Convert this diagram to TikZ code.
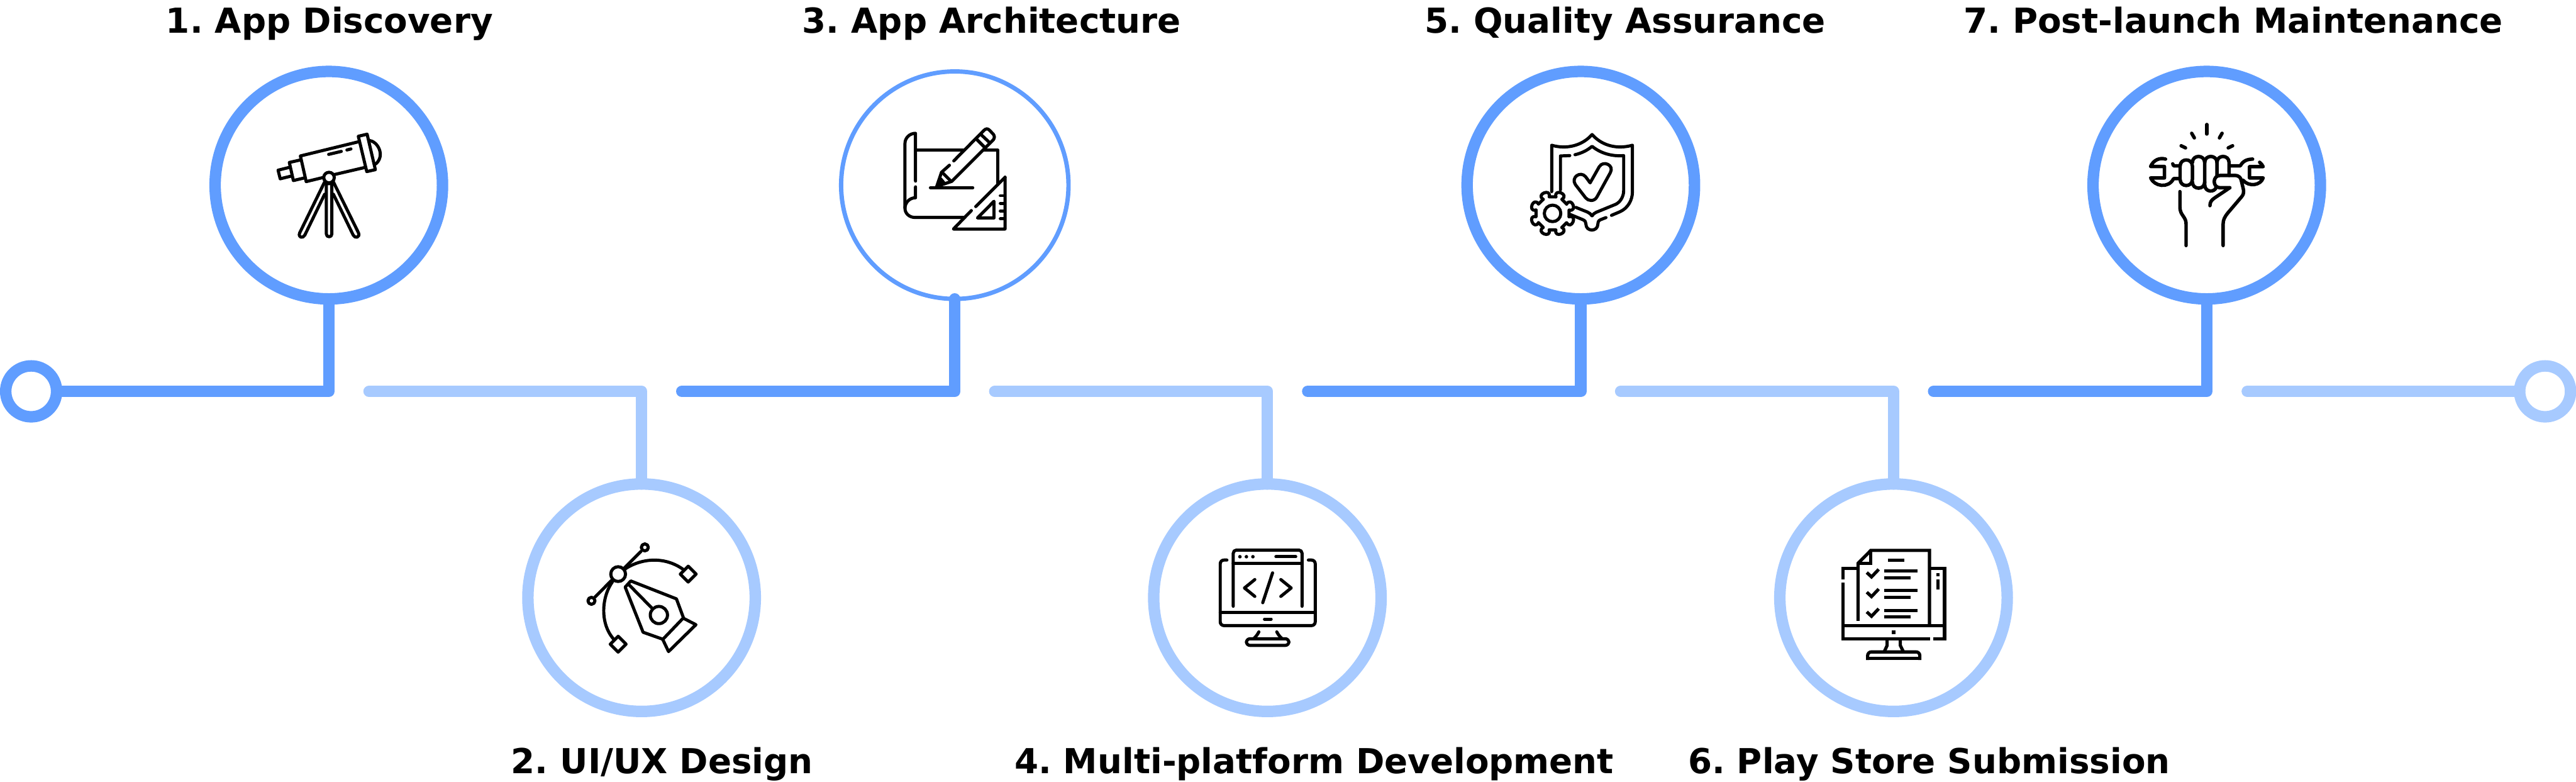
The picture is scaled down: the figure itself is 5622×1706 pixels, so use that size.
\documentclass[tikz,border=0pt]{standalone}
\usepackage{fontspec}
\setmainfont{DejaVu Sans}
\frenchspacing
\definecolor{stepdark}{HTML}{609DFF}
\definecolor{steplight}{HTML}{A7CAFF}
\tikzset{
  x=0.01cm,y=-0.01cm,
  ring/.style={circle,draw,inner sep=0pt,outer sep=0pt,minimum size=4.96cm,line width=0.25cm},
  thinring/.style={ring,line width=0.095cm},
  endring/.style={circle,draw,inner sep=0pt,outer sep=0pt,minimum size=1.11cm,line width=0.25cm},
  timeline/.style={line width=0.25cm,line cap=round,line join=round},
  steplabel/.style={font=\bfseries\fontsize{21.35pt}{26pt}\selectfont,inner sep=0pt,outer sep=0pt,anchor=base,black},
  iconarea/.style={x=0.003827cm,y=-0.003827cm,line width=0.068cm,line cap=round,line join=round,black},
  squareicon/.style={x=0.003827cm,y=-0.003827cm,line width=0.07cm,line cap=butt,line join=miter,black},
}
\begin{document}
\begin{tikzpicture}
\useasboundingbox (0,0) rectangle (5622,1706);
% rings
\node[endring,draw=stepdark] (start) at (68,853.8) {};
\node[endring,draw=steplight] (finish) at (5554.5,853.8) {};
\node[ring,draw=stepdark] (c1) at (717.6,404) {};
\node[ring,draw=steplight] (c2) at (1400.2,1304) {};
\node[thinring,draw=stepdark] (c3) at (2083.8,404) {};
\node[ring,draw=steplight] (c4) at (2766,1304) {};
\node[ring,draw=stepdark] (c5) at (3450,404) {};
\node[ring,draw=steplight] (c6) at (4132.5,1304) {};
\node[ring,draw=stepdark] (c7) at (4816,404) {};
% connector free ends
\coordinate (s2) at (805.5,853.8);
\coordinate (s3) at (1488,853.8);
\coordinate (s4) at (2171,853.8);
\coordinate (s5) at (2854,853.8);
\coordinate (s6) at (3537,853.8);
\coordinate (s7) at (4220,853.8);
\coordinate (s8) at (4904.5,853.8);
\draw[timeline,stepdark] (start.east) -| (c1.south);
\draw[timeline,steplight] (s2) -| (c2.north);
\draw[timeline,stepdark] (s3) -| (c3.south);
\draw[timeline,steplight] (s4) -| (c4.north);
\draw[timeline,stepdark] (s5) -| (c5.south);
\draw[timeline,steplight] (s6) -| (c6.north);
\draw[timeline,stepdark] (s7) -| (c7.south);
\draw[timeline,steplight] (s8) -- (finish.west);
% labels
\node[steplabel] (l1) at (719,72) {1. App Discovery};
\node[steplabel] (l2) at (1445,1687) {2. UI/UX Design};
\node[steplabel] (l3) at (2164,72) {3. App Architecture};
\node[steplabel] (l4) at (2868,1687) {4. Multi-platform Development};
\node[steplabel] (l5) at (3547,72) {5. Quality Assurance};
\node[steplabel] (l6) at (4210,1687) {6. Play Store Submission};
\node[steplabel] (l7) at (4874,72) {7. Post-launch Maintenance};
% icon 1: telescope
\begin{scope}[shift={(400,100)},iconarea]
\draw (600,693)--(540,708)--(552,757)--(613,742);
\draw (666,650)--(604,664)--(627,767)--(690,752);
\draw (995,547)--(667,627)--(700,773)--(795,750);
\draw (860,733)--(1032,693);
\draw (997,515)--(1047,503)--(1094,705)--(1045,716)--cycle;
\draw (1058,538) .. controls (1110,545) and (1150,625) .. (1097,672);
\draw (828,618)--(900,601);
\draw (932,593)--(955,587);
\draw (830,750) circle [radius=30];
\draw (815,785)--(815,1072) .. controls (815,1092) and (846,1092) .. (846,1072)--(846,785)--cycle;
\draw (805,775)--(663,1065) .. controls (652,1092) and (682,1098) .. (692,1078)--(805,845);
\draw (855,775)--(998,1065) .. controls (1008,1092) and (978,1098) .. (968,1078)--(855,845);
\end{scope}
% icon 2: pen tool
\begin{scope}[shift={(1100,1000)},iconarea]
\draw (650,659) circle [radius=42];
\draw (802,507) circle [radius=20];
\draw (498,811) circle [radius=20];
\draw (685,625)--(780,530);
\draw (612,695)--(518,790);
\draw (692,628) .. controls (790,565) and (920,560) .. (1020,632);
\draw (618,702) .. controls (555,790) and (545,940) .. (625,1030);
\draw (1049,614)--(1094,659)--(1049,704)--(1004,659)--cycle;
\draw (650,1013)--(695,1058)--(650,1103)--(605,1058)--cycle;
\draw (722,698)--(982,800)--(1022,908)--(905,1030)--(792,990)--(690,733)--cycle;
\draw (712,720)--(840,850);
\draw (882,892) circle [radius=49];
\draw (1025,912)--(1093,947)--(937,1100)--(905,1033);
\end{scope}
% icon 3: blueprint
\begin{scope}[shift={(1780,100)},iconarea]
\draw (569,770)--(569,498) .. controls (535,498) and (509,525) .. (509,555)--(509,925) .. controls (509,955) and (535,977) .. (565,977)--(845,977);
\draw (569,803)--(569,865) .. controls (535,865) and (509,893) .. (509,925);
\draw (575,594)--(845,594);
\draw (955,594)--(1038,594)--(1038,790);
\draw (654,808)--(895,808);
\draw (787,655)--(958,482) .. controls (970,470) and (980,470) .. (990,480)--(1012,503) .. controls (1020,513) and (1020,525) .. (1012,535)--(775,772)--(690,800)--(717,720)--(762,680);
\draw (915,530)--(965,580);
\draw (942,505)--(993,553);
\draw (725,725)--(772,772);
\draw (713,758)--(735,785);
\fill (690,800)--(708,750)--(738,785)--cycle;
\draw (1079,748)--(1079,1043)--(785,1043)--(887,938);
\draw (912,915)--(1079,748);
\draw (1016,885)--(1016,980)--(922,980)--cycle;
\foreach \ty in {853,897,941,985} \draw (1052,\ty)--(1075,\ty);
\end{scope}
% icon 4: code monitor
\begin{scope}[shift={(2460,1000)},iconarea]
\draw[rounded corners=0.07cm] (604,842)--(604,522)--(996,522)--(996,842);
\draw (604,598)--(996,598);
\foreach \dx in {642,679,716} \fill (\dx,560) circle [radius=10];
\draw (847,560)--(960,560);
\draw (727,690)--(668,738)--(727,786);
\draw (875,690)--(934,738)--(875,786);
\draw (828,652)--(772,822);
\draw[rounded corners=0.08cm] (568,579)--(530,579)--(530,952)--(1071,952)--(1071,579)--(1032,579);
\draw (530,878)--(1071,878);
\draw (782,915)--(820,915);
\draw (750,988) .. controls (742,1003) and (733,1015) .. (720,1027);
\draw (852,988) .. controls (860,1003) and (869,1015) .. (882,1027);
\draw[rounded corners=0.08cm] (679,1065)--(679,1027)--(921,1027)--(921,1065)--cycle;
\end{scope}
% icon 5: shield and gear
\begin{scope}[shift={(3150,100)},iconarea]
\draw (617,830)--(617,566) .. controls (700,590) and (790,570) .. (847,505) .. controls (905,570) and (990,590) .. (1077,566)--(1077,830) .. controls (1077,880) and (1050,925) .. (1005,945)--(958,965);
\draw (926,978)--(895,990) .. controls (882,996) and (880,1005) .. (880,1015) .. controls (880,1060) and (812,1060) .. (812,1015) .. controls (812,1005) and (808,995) .. (795,990)--(722,960);
\draw (720,625)--(667,627)--(667,820);
\draw (750,620) .. controls (790,610) and (820,595) .. (847,572) .. controls (900,615) and (965,630) .. (1027,625)--(1027,825) .. controls (1027,860) and (1005,895) .. (975,905)--(870,948) .. controls (860,952) and (852,960) .. (847,968) .. controls (840,958) and (830,950) .. (820,946)--(755,920);
\draw (836,780)--(888,688) .. controls (912,650) and (975,680) .. (951,722)--(875,860) .. controls (860,888) and (825,885) .. (810,865)--(752,790) .. controls (725,750) and (780,710) .. (810,745)--cycle;
\draw (622,954) circle [radius=47];
\foreach \ta in {22.5,67.5,...,360} {
  \draw ([shift={(622,954)}]\ta-11:96) .. controls ([shift={(622,954)}]\ta-20:146) and ([shift={(622,954)}]\ta+20:146) .. ([shift={(622,954)}]\ta+11:96)--([shift={(622,954)}]\ta+34:96);
}
\end{scope}
% icon 6: checklist monitor
\begin{scope}[shift={(3830,1000)},squareicon]
\draw (501,690)--(501,626)--(578,626);
\draw (994,626)--(1080,626)--(1080,1027)--(1015,1027);
\draw (997,1027)--(501,1027)--(501,708);
\draw (501,952)--(1080,952);
\draw (587,925)--(587,598)--(660,524)--(994,524)--(994,952);
\draw (587,598)--(660,598)--(660,524);
\draw (758,579)--(852,579);
\foreach \dy in {0,112,224} {
  \draw (637,650+\dy)--(664,675+\dy)--(705,632+\dy);
  \draw (737,641+\dy)--(925,641+\dy);
  \draw (737,679+\dy)--(885,679+\dy);
}
\draw (1042,652)--(1042,672);
\draw (1042,690)--(1042,746);
\draw (781,990)--(800,990);
\draw (753,1035)--(753,1065)--(737,1100);
\draw (828,1035)--(828,1065)--(845,1100);
\draw[rounded corners=0.08cm] (642,1148)--(642,1102)--(939,1102)--(939,1148);
\draw (633,1139)--(948,1139);
\end{scope}
% icon 7: fist and wrench
\begin{scope}[shift={(4510,100)},iconarea,line width=0.075cm]
\draw (799,448)--(799,502);
\draw (713,498)--(728,524);
\draw (886,498)--(871,524);
\draw (653,569)--(678,581);
\draw (946,569)--(921,581);
\draw (647,685) .. controls (647,638) and (717,638) .. (717,685)--(717,760) .. controls (717,807) and (647,807) .. (647,760)--cycle;
\draw (717,665) .. controls (717,618) and (787,618) .. (787,665)--(787,775) .. controls (787,822) and (717,822) .. (717,775);
\draw (787,665) .. controls (787,618) and (857,618) .. (857,665)--(857,738);
\draw (787,775)--(787,790) .. controls (787,836) and (845,836) .. (852,805);
\draw (857,665) .. controls (857,618) and (926,618) .. (926,665)--(926,738);
\draw (930,808)--(875,808) .. controls (830,808) and (830,738) .. (875,738)--(960,738) .. controls (985,738) and (993,755) .. (995,765)--(1007,815) .. controls (1012,840) and (1005,850) .. (995,862)--(920,950) .. controls (900,975) and (892,990) .. (892,1015)--(892,1137);
\draw (930,808)--(845,865) .. controls (825,878) and (817,890) .. (817,910);
\draw (646,830)--(646,915) .. controls (646,945) and (655,955) .. (665,970) .. controls (675,985) and (681,995) .. (681,1015)--(681,1137);
\draw (564,645) .. controls (530,635) and (495,650) .. (479,687)--(558,687)--(558,752)--(479,752) .. controls (500,800) and (580,815) .. (610,756)--(640,756);
\draw (640,683)--(610,683)--(605,672);
\draw (935,683)--(990,683) .. controls (1005,655) and (1030,645) .. (1060,645);
\draw (1100,663) .. controls (1110,670) and (1115,680) .. (1120,688)--(1042,688)--(1042,752)--(1120,752) .. controls (1105,795) and (1040,805) .. (1005,765);
\end{scope}
\end{tikzpicture}
\end{document}
